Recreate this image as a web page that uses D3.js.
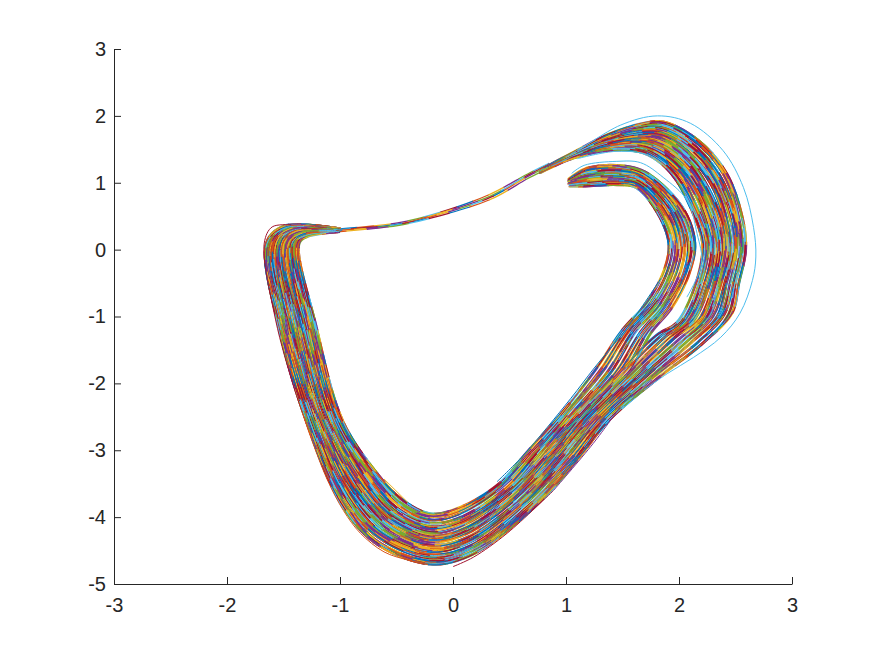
<!DOCTYPE html>
<html>
<head>
<meta charset="utf-8">
<script src="https://cdn.jsdelivr.net/npm/d3@7"></script>
<style>
  html, body { margin: 0; padding: 0; background: #fff; }
  text { font-family: "Liberation Sans", Arial, sans-serif; }
</style>
</head>
<body>
<div id="vizContent"></div>
<script>
/* Phase portrait, strands.
 * The real plot has far too many lines to separate, so these are estimates of
 * where strands run across the bands, from the outer edge to the inner edge.
 */
var xTicks = [-3, -2, -1, 0, 1, 2, 3];
var yTicks = [-5, -4, -3, -2, -1, 0, 1, 2, 3];
var lineColors = ["#0072BD", "#D95319", "#EDB120", "#7E2F8E", "#77AC30", "#4DBEEE", "#A2142F"];

// lower loop: from where the wings merge, round the bottom, up the left side, into the neck
var bandStrands = [
    [[2.46,-.95],[2.21,-1.40],[1.83,-1.90],[1.38,-2.55],[1.10,-3.14],[.76,-3.78],[.18,-4.55],[-.2,-4.70],[-.69,-4.38],[-.99,-3.79],[-1.30,-2.55],[-1.54,-1.16],[-1.65,.1],[-1.50,.35],[-1.0,.31]],
    [[2.42,-.94],[2.17,-1.38],[1.79,-1.89],[1.35,-2.54],[1.08,-3.13],[.74,-3.77],[.17,-4.51],[-.2,-4.66],[-.68,-4.35],[-.97,-3.76],[-1.28,-2.55],[-1.52,-1.16],[-1.64,.1],[-1.48,.35],[-1.0,.31]],
    [[2.37,-.94],[2.12,-1.37],[1.76,-1.89],[1.33,-2.54],[1.05,-3.12],[.72,-3.75],[.16,-4.47],[-.2,-4.61],[-.66,-4.30],[-.96,-3.73],[-1.26,-2.55],[-1.50,-1.16],[-1.62,.1],[-1.47,.34],[-1.0,.30]],
    [[2.32,-.93],[2.08,-1.36],[1.72,-1.88],[1.30,-2.53],[1.02,-3.11],[.69,-3.73],[.15,-4.43],[-.2,-4.56],[-.65,-4.26],[-.94,-3.70],[-1.24,-2.55],[-1.48,-1.16],[-1.60,.1],[-1.45,.33],[-1.0,.30]],
    [[2.28,-.92],[2.04,-1.35],[1.69,-1.87],[1.28,-2.52],[1.00,-3.10],[.67,-3.71],[.14,-4.38],[-.2,-4.51],[-.64,-4.22],[-.92,-3.67],[-1.22,-2.55],[-1.46,-1.16],[-1.58,.1],[-1.44,.32],[-1.0,.30]],
    [[2.23,-.92],[2.00,-1.34],[1.65,-1.87],[1.25,-2.52],[.97,-3.09],[.65,-3.70],[.14,-4.34],[-.2,-4.47],[-.62,-4.18],[-.90,-3.64],[-1.20,-2.55],[-1.44,-1.16],[-1.56,.1],[-1.43,.31],[-1.0,.30]],
    [[2.18,-.91],[1.96,-1.32],[1.62,-1.86],[1.22,-2.51],[.94,-3.08],[.63,-3.68],[.13,-4.30],[-.2,-4.42],[-.60,-4.14],[-.88,-3.61],[-1.18,-2.55],[-1.42,-1.16],[-1.54,.1],[-1.41,.30],[-1.0,.29]],
    [[2.14,-.91],[1.92,-1.31],[1.58,-1.86],[1.20,-2.51],[.92,-3.07],[.60,-3.66],[.12,-4.25],[-.2,-4.37],[-.59,-4.10],[-.86,-3.58],[-1.16,-2.55],[-1.40,-1.16],[-1.52,.1],[-1.40,.29],[-1.0,.29]],
    [[2.09,-.90],[1.88,-1.30],[1.55,-1.85],[1.17,-2.50],[.89,-3.07],[.58,-3.65],[.11,-4.21],[-.2,-4.33],[-.58,-4.06],[-.84,-3.55],[-1.14,-2.55],[-1.38,-1.16],[-1.50,.1],[-1.39,.28],[-1.0,.29]],
    [[2.04,-.89],[1.84,-1.29],[1.51,-1.84],[1.14,-2.49],[.86,-3.06],[.56,-3.63],[.10,-4.17],[-.2,-4.28],[-.56,-4.02],[-.82,-3.52],[-1.12,-2.55],[-1.35,-1.16],[-1.49,.1],[-1.37,.27],[-1.0,.29]],
    [[2.00,-.89],[1.80,-1.28],[1.47,-1.84],[1.12,-2.49],[.84,-3.05],[.53,-3.61],[.09,-4.12],[-.2,-4.23],[-.54,-3.98],[-.80,-3.49],[-1.10,-2.55],[-1.33,-1.16],[-1.47,.1],[-1.36,.26],[-1.0,.28]],
    [[1.95,-.88],[1.76,-1.26],[1.44,-1.83],[1.09,-2.48],[.81,-3.04],[.51,-3.59],[.08,-4.08],[-.2,-4.18],[-.53,-3.94],[-.78,-3.46],[-1.08,-2.55],[-1.31,-1.16],[-1.45,.1],[-1.34,.25],[-1.0,.28]],
    [[1.90,-.88],[1.72,-1.25],[1.40,-1.83],[1.06,-2.48],[.78,-3.03],[.49,-3.58],[.08,-4.04],[-.2,-4.14],[-.52,-3.90],[-.76,-3.43],[-1.06,-2.55],[-1.29,-1.16],[-1.43,.1],[-1.33,.24],[-1.0,.28]],
    [[1.86,-.87],[1.68,-1.24],[1.37,-1.82],[1.04,-2.47],[.75,-3.02],[.47,-3.56],[.07,-4.00],[-.2,-4.09],[-.50,-3.86],[-.74,-3.40],[-1.04,-2.55],[-1.27,-1.16],[-1.41,.1],[-1.32,.23],[-1.0,.28]],
    [[1.81,-.86],[1.64,-1.23],[1.33,-1.81],[1.01,-2.46],[.73,-3.02],[.44,-3.54],[.06,-3.95],[-.2,-4.04],[-.48,-3.82],[-.72,-3.37],[-1.02,-2.55],[-1.25,-1.16],[-1.39,.1],[-1.30,.22],[-1.0,.27]],
    [[1.76,-.86],[1.60,-1.22],[1.30,-1.81],[.99,-2.46],[.70,-3.01],[.42,-3.52],[.05,-3.91],[-.2,-3.99],[-.47,-3.78],[-.70,-3.34],[-1.00,-2.55],[-1.23,-1.16],[-1.37,.1],[-1.29,.21],[-1.0,.27]],
    [[1.72,-.85],[1.55,-1.20],[1.26,-1.80],[.96,-2.45],[.67,-3.00],[.40,-3.51],[.04,-3.87],[-.2,-3.95],[-.45,-3.74],[-.69,-3.31],[-.98,-2.55],[-1.21,-1.16],[-1.36,.1],[-1.28,.20],[-1.0,.27]]
];

// thin neck between the left corner and the outer wing
var neckStrands = [
    [[-1.0,.31],[-.49,.40],[-.11,.56],[.33,.83],[.68,1.15],[.85,1.29]],
    [[-1.0,.30],[-.49,.38],[-.11,.55],[.33,.80],[.68,1.13],[.85,1.27]],
    [[-1.0,.29],[-.49,.37],[-.11,.53],[.33,.78],[.68,1.11],[.85,1.25]],
    [[-1.0,.27],[-.49,.36],[-.11,.51],[.33,.75],[.68,1.08],[.85,1.22]]
];

// outer wing, over the top and down the right side
var outerWingStrands = [
    [[.77,1.19],[1.07,1.46],[1.37,1.72],[1.66,1.88],[1.86,1.91],[2.18,1.62],[2.42,1.14],[2.56,.48],[2.59,0],[2.53,-.50],[2.47,-.95]],
    [[.77,1.19],[1.07,1.45],[1.37,1.70],[1.66,1.85],[1.86,1.87],[2.17,1.58],[2.40,1.11],[2.53,.46],[2.56,0],[2.50,-.50],[2.44,-.96]],
    [[.77,1.19],[1.07,1.45],[1.38,1.69],[1.66,1.82],[1.86,1.82],[2.15,1.54],[2.37,1.08],[2.51,.45],[2.54,0],[2.48,-.51],[2.40,-.97]],
    [[.77,1.18],[1.07,1.44],[1.38,1.67],[1.66,1.79],[1.86,1.78],[2.14,1.50],[2.35,1.05],[2.49,.43],[2.51,0],[2.45,-.51],[2.37,-.98]],
    [[.77,1.18],[1.07,1.44],[1.38,1.66],[1.67,1.76],[1.86,1.74],[2.13,1.46],[2.33,1.02],[2.46,.42],[2.49,0],[2.42,-.51],[2.34,-.99]],
    [[.77,1.18],[1.07,1.43],[1.39,1.64],[1.67,1.73],[1.86,1.70],[2.11,1.42],[2.31,.98],[2.43,.40],[2.46,0],[2.40,-.52],[2.30,-1.00]],
    [[.77,1.18],[1.07,1.42],[1.39,1.63],[1.67,1.71],[1.86,1.66],[2.10,1.38],[2.29,.96],[2.41,.39],[2.44,0],[2.37,-.52],[2.27,-1.00]],
    [[.77,1.17],[1.07,1.42],[1.39,1.61],[1.67,1.68],[1.86,1.61],[2.09,1.34],[2.26,.92],[2.39,.37],[2.41,0],[2.35,-.52],[2.24,-1.02]],
    [[.77,1.17],[1.07,1.41],[1.40,1.60],[1.67,1.65],[1.85,1.58],[2.07,1.31],[2.24,.90],[2.36,.36],[2.39,0],[2.32,-.53],[2.21,-1.02]],
    [[.77,1.17],[1.07,1.41],[1.40,1.58],[1.67,1.62],[1.85,1.53],[2.06,1.27],[2.22,.86],[2.34,.34],[2.36,0],[2.30,-.53],[2.18,-1.03]],
    [[.77,1.17],[1.07,1.40],[1.40,1.57],[1.67,1.59],[1.85,1.49],[2.05,1.22],[2.20,.83],[2.31,.33],[2.34,0],[2.27,-.53],[2.14,-1.04]],
    [[.77,1.16],[1.07,1.39],[1.41,1.55],[1.67,1.57],[1.85,1.45],[2.03,1.19],[2.18,.80],[2.29,.31],[2.31,0],[2.25,-.54],[2.11,-1.05]],
    [[.77,1.16],[1.07,1.39],[1.41,1.54],[1.68,1.54],[1.85,1.41],[2.02,1.15],[2.16,.77],[2.26,.30],[2.29,0],[2.22,-.54],[2.08,-1.06]],
    [[.77,1.16],[1.07,1.38],[1.41,1.52],[1.68,1.50],[1.85,1.36],[2.01,1.11],[2.13,.74],[2.24,.28],[2.26,0],[2.19,-.54],[2.05,-1.07]],
    [[.77,1.15],[1.07,1.38],[1.42,1.51],[1.68,1.48],[1.85,1.32],[1.99,1.07],[2.11,.71],[2.22,.27],[2.24,0],[2.17,-.55],[2.02,-1.08]],
    [[.77,1.15],[1.07,1.37],[1.42,1.49],[1.68,1.45],[1.85,1.28],[1.98,1.03],[2.09,.68],[2.19,.25],[2.21,0],[2.14,-.55],[1.98,-1.09]]
];

// inner wing, from its tip near (1, 1)
var innerWingStrands = [
    [[1.02,1.05],[1.17,1.21],[1.45,1.26],[1.70,1.16],[2.03,.63],[2.14,.10],[2.09,-.36],[1.94,-.86],[1.75,-1.25]],
    [[1.02,1.04],[1.17,1.18],[1.45,1.23],[1.69,1.13],[2.00,.62],[2.11,.10],[2.06,-.35],[1.91,-.85],[1.72,-1.24]],
    [[1.02,1.03],[1.17,1.15],[1.45,1.19],[1.68,1.10],[1.97,.61],[2.08,.10],[2.04,-.35],[1.88,-.84],[1.69,-1.24]],
    [[1.02,1.02],[1.17,1.11],[1.45,1.15],[1.67,1.07],[1.95,.60],[2.05,.10],[2.01,-.34],[1.86,-.83],[1.66,-1.23]],
    [[1.02,1.00],[1.17,1.08],[1.45,1.11],[1.66,1.05],[1.92,.59],[2.02,.10],[1.98,-.33],[1.83,-.82],[1.62,-1.22]],
    [[1.02,.99],[1.17,1.05],[1.45,1.08],[1.65,1.02],[1.89,.58],[1.99,.10],[1.95,-.32],[1.80,-.81],[1.59,-1.22]],
    [[1.03,.98],[1.17,1.01],[1.45,1.04],[1.64,.99],[1.87,.57],[1.97,.10],[1.93,-.32],[1.78,-.80],[1.56,-1.21]],
    [[1.03,.96],[1.17,.98],[1.45,1.00],[1.63,.96],[1.84,.56],[1.94,.10],[1.90,-.31],[1.75,-.79],[1.53,-1.21]],
    [[1.03,.95],[1.17,.95],[1.45,.97],[1.62,.93],[1.81,.55],[1.91,.10],[1.87,-.30],[1.72,-.78],[1.50,-1.20]]
];

// single strands that stand clear of the bands, each with the colour it has in the picture
var loneStrands = [
    {color: 5, points: [[1.10,1.47],[1.48,1.86],[1.81,2.00],[2.10,1.89],[2.39,1.48],[2.57,.93],[2.66,.33],[2.68,-.11],[2.65,-.46],[2.54,-.95],[2.37,-1.31],[2.13,-1.61],[1.90,-1.85],[1.69,-2.10]]},
    {color: 5, points: [[1.05,1.14],[1.16,1.26],[1.45,1.32],[1.66,1.30],[1.86,1.08],[2.07,.74],[2.16,.24],[2.20,-.21],[2.07,-.71]]},
    {color: 5, points: [[1.10,1.36],[1.45,1.47],[1.75,1.40],[1.97,1.07],[2.15,.55],[2.23,0],[2.16,-.56]]},
    {color: 1, points: [[-1.33,-2.45],[-1.26,-2.80],[-1.11,-3.45],[-.97,-3.90],[-.82,-4.24],[-.61,-4.52],[-.40,-4.64],[-.23,-4.69]]},
    {color: 6, points: [[-1.33,-2.45],[-1.41,-2.05],[-1.57,-1.05],[-1.67,.10],[-1.60,.34],[-1.44,.37]]},
    {color: 6, points: [[0,-4.74],[.18,-4.60],[.48,-4.24],[.89,-3.60]]},
    {color: 3, points: [[.89,-3.60],[1.24,-2.90],[1.48,-2.35]]},
    {color: 0, points: [[.39,-3.47],[.62,-3.08],[1.04,-2.23],[1.25,-1.77],[1.54,-1.17],[1.84,-.43]]},
    {color: 2, points: [[-.61,-3.43],[-.40,-3.78]]}
];

var x = d3.scaleLinear().domain([-3, 3]).range([114, 792]);
var y = d3.scaleLinear().domain([-5, 3]).range([584, 49]);

var line = d3.line()
    .x(function(d) { return x(d[0]); })
    .y(function(d) { return y(d[1]); })
    .curve(d3.curveCatmullRom.alpha(0.5));

var svg = d3.select("#vizContent").append("svg")
    .attr("width", 875)
    .attr("height", 656)
    .style("display", "block");

var dashLengths = [17, 26, 12, 21, 31, 15, 24];
var strandCount = 0;

/* Draw one strand as seven dashed copies of the same path, so the colours
 * take turns along it the way the segments do in the picture.
 */
function drawStrand(points, width, shift) {
    var dash = dashLengths[strandCount % dashLengths.length];
    var phase = (strandCount * 37) % (dash * 7);
    strandCount++;
    lineColors.forEach(function(color, c) {
        svg.append("path")
            .attr("d", line(points))
            .attr("transform", "translate(" + shift + "," + (-shift) + ")")
            .attr("fill", "none")
            .attr("stroke", color)
            .attr("stroke-width", width)
            .attr("stroke-dasharray", (dash + 0.6) + " " + (dash * 6 - 0.6))
            .attr("stroke-dashoffset", -(c * dash + phase));
    });
}

// the wings overlap across the middle ranks of the band, which closes the gap between them
var outerFull = outerWingStrands.map(function(s, i) {
    return s.concat(bandStrands[Math.floor(i * 11 / 16)].slice(1));
});
var innerFull = innerWingStrands.map(function(s, i) {
    return s.concat(bandStrands[8 + i].slice(2));
});

neckStrands.forEach(function(s) { drawStrand(s, 1.3, 0); });
innerFull.forEach(function(s) { drawStrand(s, 2.8, 0); });
outerFull.forEach(function(s) { drawStrand(s, 2.8, 0); });
// finer streaks over the wide strokes
[0.8, -0.8].forEach(function(shift) {
    innerFull.forEach(function(s) { drawStrand(s, 1, shift); });
    outerFull.forEach(function(s) { drawStrand(s, 1, shift); });
});

loneStrands.forEach(function(s) {
    svg.append("path")
        .attr("d", line(s.points))
        .attr("fill", "none")
        .attr("stroke", lineColors[s.color])
        .attr("stroke-width", 1);
});

var xAxis = d3.axisBottom(x)
    .tickValues(xTicks)
    .tickFormat(function(d) { return String(d); })
    .tickSizeInner(-7)
    .tickSizeOuter(0)
    .tickPadding(14);
var yAxis = d3.axisLeft(y)
    .tickValues(yTicks)
    .tickFormat(function(d) { return String(d); })
    .tickSizeInner(-7)
    .tickSizeOuter(0)
    .tickPadding(8);

var axes = [
    svg.append("g").attr("transform", "translate(0,584)").call(xAxis),
    svg.append("g").attr("transform", "translate(114,0)").call(yAxis)
];
axes.forEach(function(g) {
    g.selectAll("path, line").attr("stroke", "#262626");
    g.selectAll("text")
        .attr("fill", "#262626")
        .style("font-family", '"Liberation Sans", Arial, sans-serif')
        .style("font-size", "20px");
});
</script>
</body>
</html>
